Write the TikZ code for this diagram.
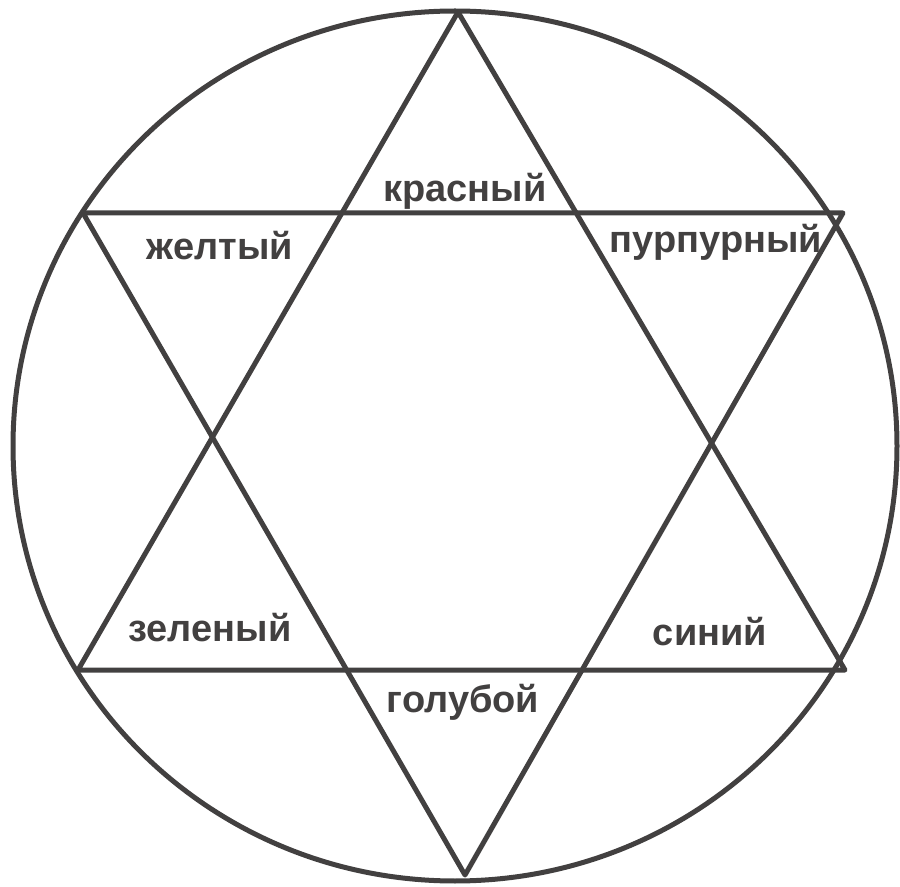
\documentclass[tikz,border=0pt]{standalone}
\usepackage{fontspec}
\setmainfont{Liberation Sans}
\begin{document}
\begin{tikzpicture}[x=0.5pt,y=-0.5pt,
  ln/.style={draw=ink,line width=2.5pt,line join=round},
  lbl/.style={text=ink,font=\bfseries\fontsize{19}{22}\selectfont,anchor=base,inner sep=0pt}]
\definecolor{ink}{HTML}{424040}
\useasboundingbox (0,0) rectangle (900,887);
\draw[ln] (455,446) ellipse [x radius=442, y radius=435];
\coordinate (T) at (458,12);
\coordinate (BL) at (78,670);
\coordinate (BR) at (845,670);
\coordinate (B) at (465,875);
\coordinate (TL) at (83,213);
\coordinate (TR) at (843,213);
\draw[ln] (T) -- (BL) -- (BR) -- cycle;
\draw[ln] (B) -- (TL) -- (TR) -- cycle;
\node[lbl] (r) at (465,202) {красный};
\node[lbl] (y) at (220,260) {желтый};
\node[lbl] (p) at (716,253) {пурпурный};
\node[lbl] (g) at (210,641) {зеленый};
\node[lbl] (s) at (710,646) {синий};
\node[lbl] (c) at (463,712) {голубой};
\end{tikzpicture}
\end{document}
